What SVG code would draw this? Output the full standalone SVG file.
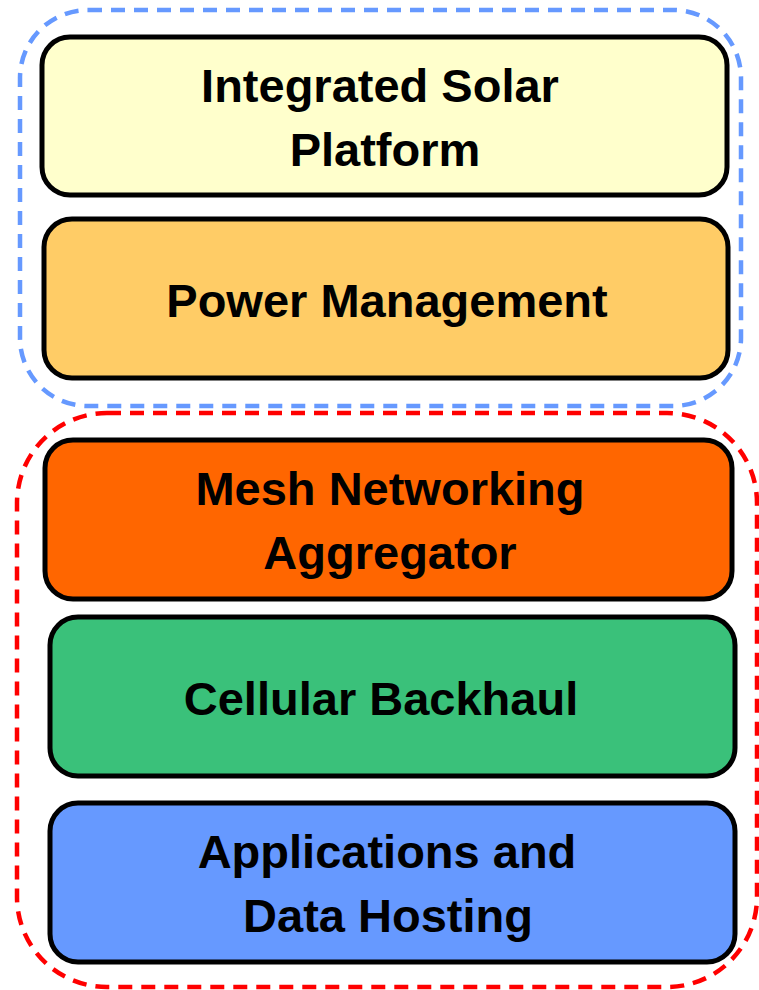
<svg xmlns="http://www.w3.org/2000/svg" width="759" height="990" viewBox="0 0 759 990">
<style>
.grp{fill:none;stroke-width:4.5;stroke-dasharray:14 9}
.box{stroke:#000;stroke-width:5}
.lbl{font-family:"Liberation Sans",Arial,sans-serif;font-weight:bold;font-size:47px;fill:#000;text-anchor:middle}
</style>
<rect width="759" height="990" fill="#fff"/>
<g id="groups">
<rect id="power-group" class="grp" x="20" y="10" width="721" height="396" rx="68" stroke="#6699FF"/>
<rect id="network-group" class="grp" x="17" y="413" width="740" height="574" rx="90" stroke="#FF0000"/>
</g>
<g id="solar">
<rect class="box" x="42" y="37" width="685" height="158" rx="28" fill="#FFFFCC"/>
<text class="lbl" x="380" y="102">Integrated Solar</text>
<text class="lbl" x="385" y="166">Platform</text>
</g>
<g id="power">
<rect class="box" x="44" y="219" width="684" height="159" rx="28" fill="#FFCC66"/>
<text class="lbl" x="387" y="317">Power Management</text>
</g>
<g id="mesh">
<rect class="box" x="45" y="440" width="687" height="159" rx="28" fill="#FF6600"/>
<text class="lbl" x="390" y="505">Mesh Networking</text>
<text class="lbl" x="390" y="569">Aggregator</text>
</g>
<g id="cellular">
<rect class="box" x="50" y="617" width="685" height="159" rx="28" fill="#3AC17A"/>
<text class="lbl" x="381" y="715">Cellular Backhaul</text>
</g>
<g id="apps">
<rect class="box" x="50" y="803" width="685" height="159" rx="28" fill="#6699FF"/>
<text class="lbl" x="387" y="868">Applications and</text>
<text class="lbl" x="388" y="932">Data Hosting</text>
</g>
<g id="connectors"></g>
</svg>
